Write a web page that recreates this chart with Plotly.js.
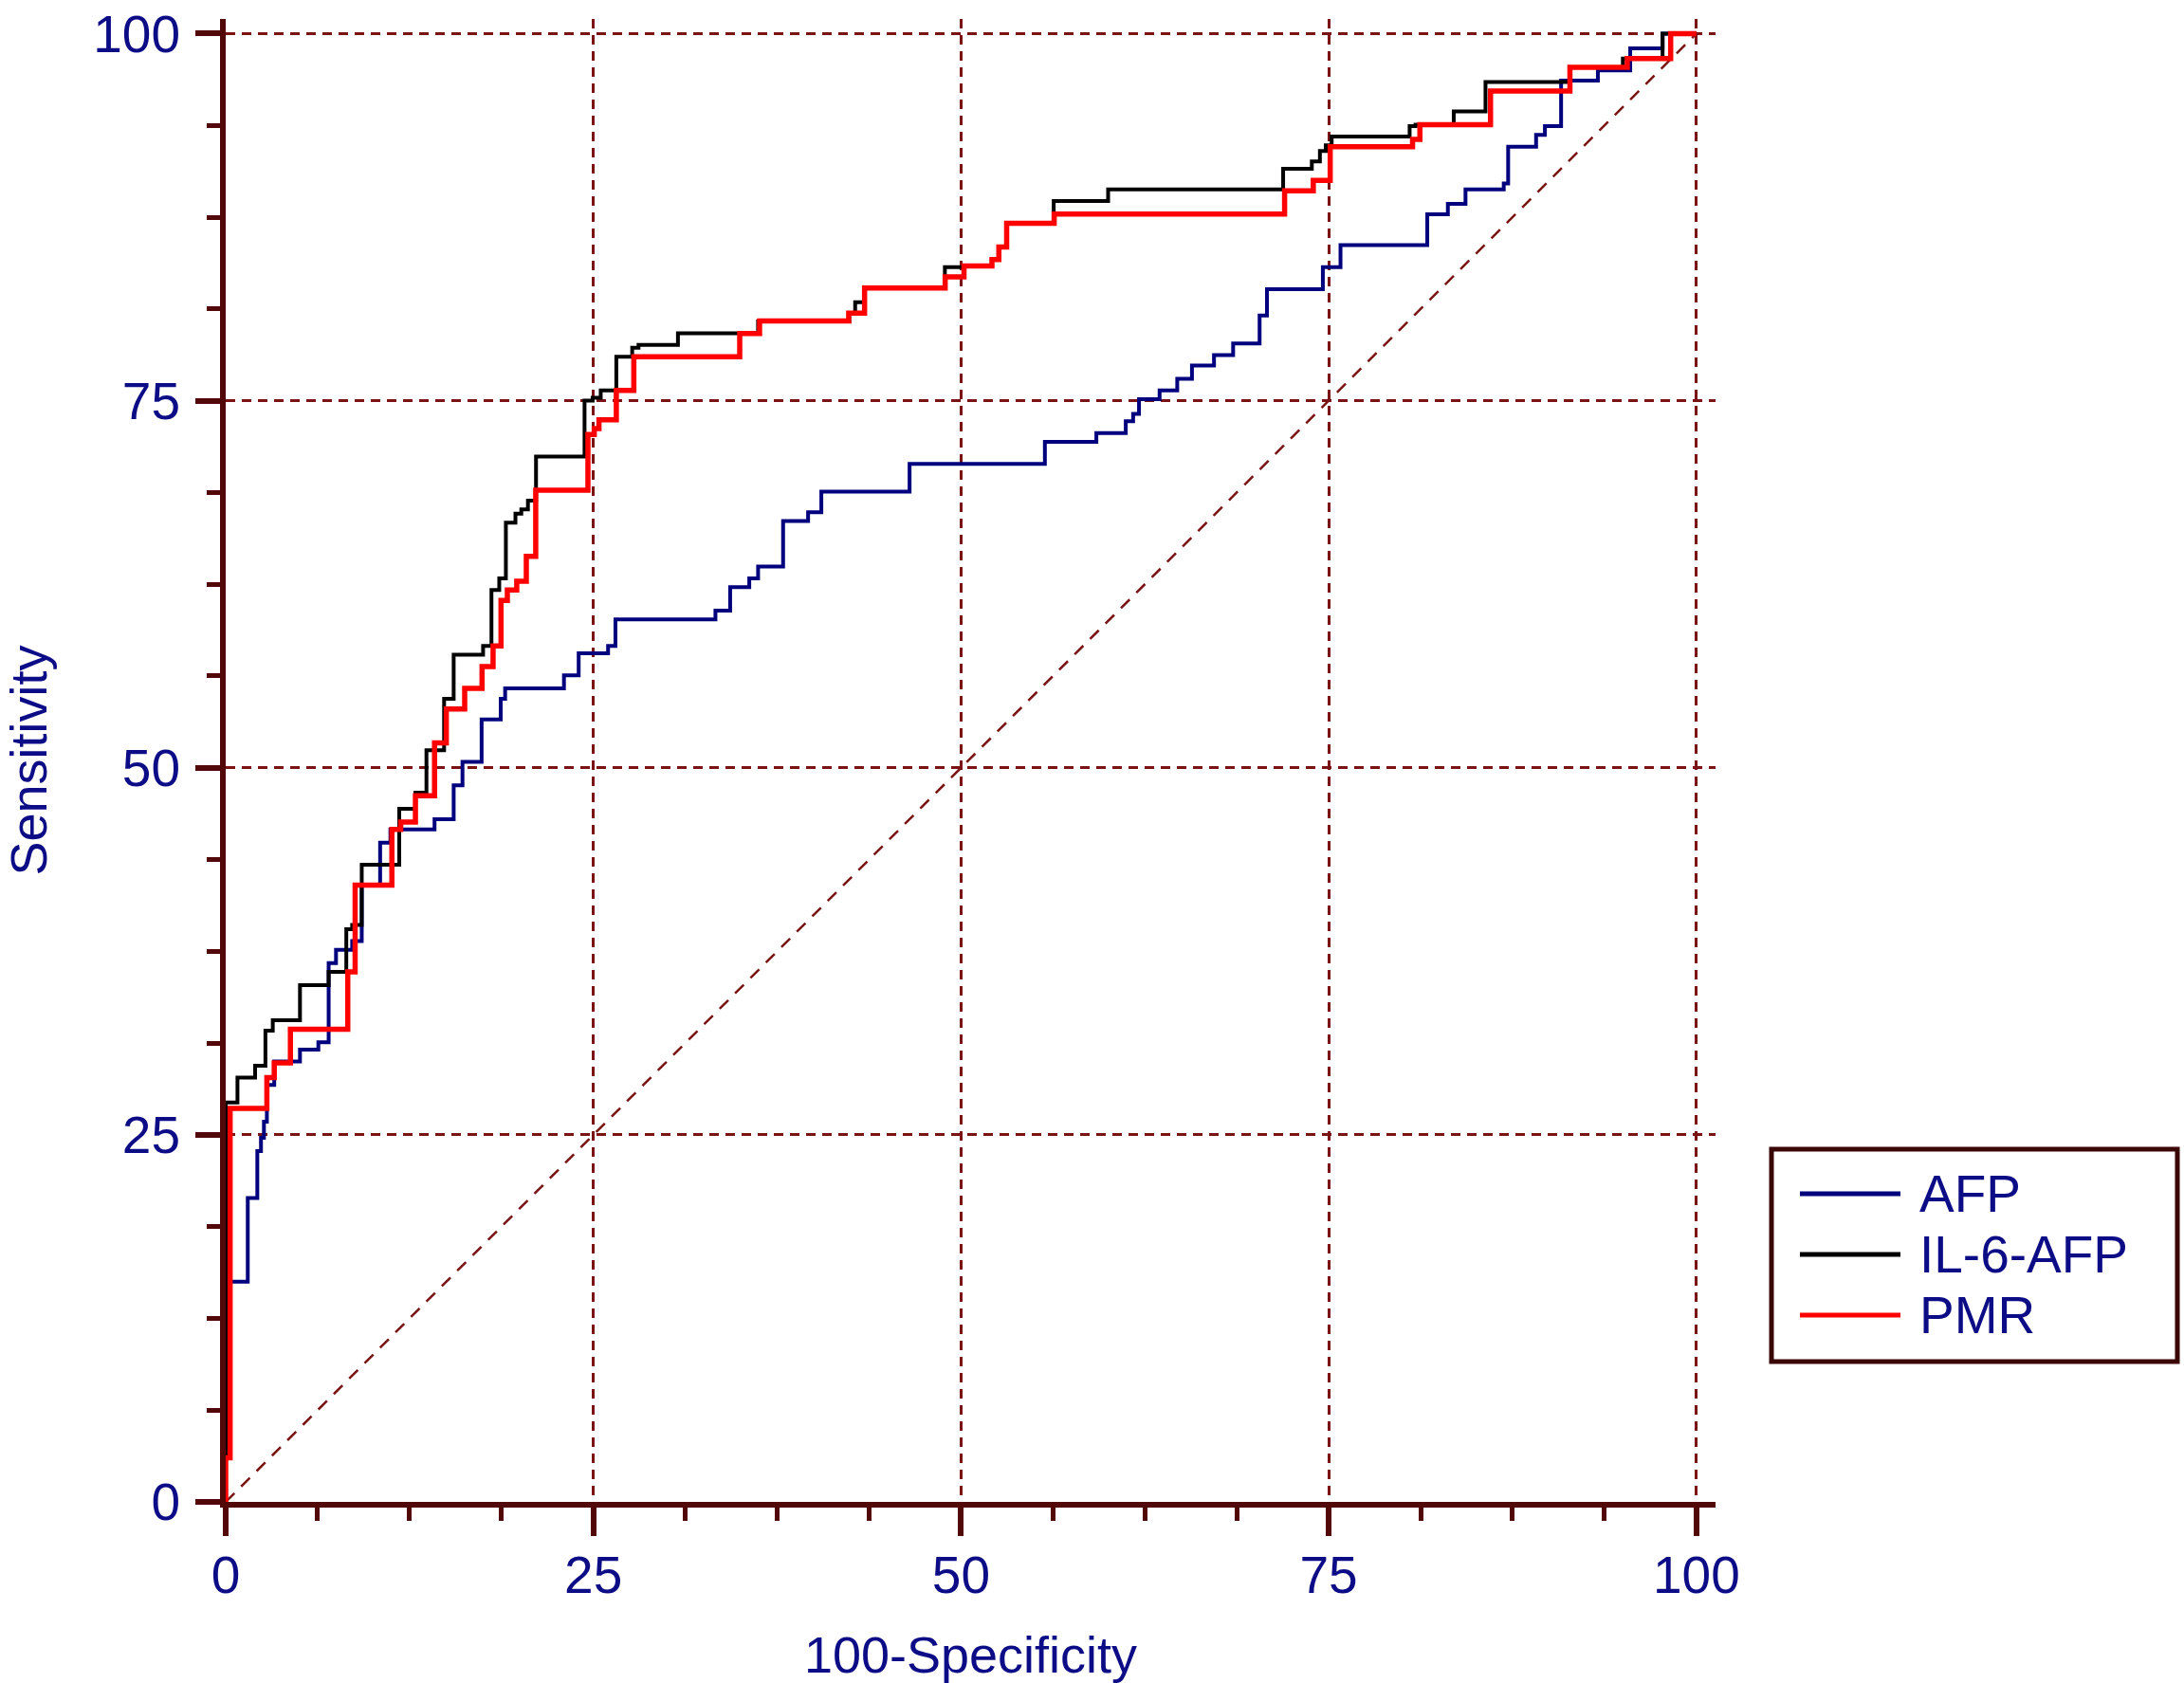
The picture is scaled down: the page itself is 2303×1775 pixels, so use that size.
<!DOCTYPE html>
<html>
<head>
<meta charset="utf-8">
<script src="https://cdn.plot.ly/plotly-3.0.1.min.js"></script>
<style>
  html, body { margin: 0; padding: 0; background: #fff; }
  #chart { width: 2303px; height: 1775px; }
</style>
</head>
<body>
<div id="chart"></div>
<script>
// ROC curves (x = 100-Specificity, y = Sensitivity)
const afpX = [0, 0, 1.5, 2.15, 2.4, 2.6, 2.8, 3.3, 5.05, 6.3, 7.0, 7.5, 8.6, 9.25, 10.5, 11.2, 14.2, 15.5, 16.1, 17.4,
  18.7, 19.0, 23.0, 24.0, 26.0, 26.5, 33.3, 34.3, 35.6, 36.2, 37.9, 39.6, 40.5, 46.5, 55.7, 59.2, 61.2, 61.7, 62.1, 63.5,
  64.7, 65.7, 67.2, 68.5, 70.3, 70.8, 74.6, 75.8, 81.7, 83.1, 84.3, 86.9, 87.2, 89.1, 89.7, 90.8, 93.3, 95.5, 97.7, 100];
const afpY = [0, 15.0, 20.7, 23.9, 24.8, 25.9, 28.4, 30.0, 30.8, 31.3, 36.7, 37.6, 38.2, 42.0, 44.9, 45.8, 46.5, 48.8, 50.4, 53.3,
  54.7, 55.4, 56.3, 57.8, 58.3, 60.1, 60.7, 62.3, 62.9, 63.7, 66.8, 67.4, 68.8, 70.7, 72.2, 72.8, 73.6, 74.1, 75.1, 75.7,
  76.5, 77.4, 78.1, 78.9, 80.8, 82.6, 84.1, 85.6, 87.7, 88.4, 89.4, 89.8, 92.3, 93.1, 93.7, 96.8, 97.5, 99.0, 100, 100];

const il6X = [0, 0, 0.8, 2.0, 2.7, 3.2, 5.05, 7.0, 8.2, 8.6, 9.25, 11.8, 12.9, 13.65, 14.85, 15.5, 17.5, 18.07, 18.6, 19.05,
  19.7, 20.1, 20.55, 21.1, 24.4, 24.95, 25.5, 26.56, 27.64, 28.07, 30.75, 36.2, 42.4, 42.8, 43.4, 48.9, 50.2, 52.1, 52.6, 53.1,
  56.3, 60.0, 71.9, 73.85, 74.4, 74.8, 75.2, 80.5, 80.9, 83.5, 85.66, 91.4, 95.0, 97.7, 100];
const il6Y = [0, 27.2, 28.9, 29.7, 32.1, 32.8, 35.2, 36.1, 39.0, 39.3, 43.4, 47.2, 48.3, 51.2, 54.7, 57.7, 58.3, 62.1, 62.9, 66.7,
  67.3, 67.6, 68.2, 71.2, 75.0, 75.2, 75.7, 78.0, 78.6, 78.8, 79.6, 80.4, 80.97, 81.7, 82.7, 84.1, 84.2, 84.6, 85.5, 87.1,
  88.6, 89.4, 90.8, 91.3, 92.0, 92.4, 93.0, 93.7, 93.8, 94.7, 96.7, 97.7, 98.3, 100, 100];

const pmrX = [0, 0, 0.3, 2.8, 3.3, 4.4, 8.3, 8.8, 11.3, 11.9, 12.9, 14.2, 15.0, 16.25, 17.43, 18.18, 18.72, 19.15, 19.79, 20.44,
  21.08, 24.63, 25.06, 25.38, 26.56, 27.75, 34.95, 36.3, 42.36, 43.44, 48.92, 50.2, 52.1, 52.57, 53.1, 56.33, 72.0, 73.95, 75.1, 80.7,
  81.2, 86.0, 91.4, 95.3, 98.25, 100];
const pmrY = [0, 3.0, 26.8, 28.9, 29.9, 32.2, 36.1, 42.0, 45.8, 46.3, 48.1, 51.7, 54.0, 55.4, 56.9, 58.3, 61.4, 62.1, 62.7, 64.4,
  68.9, 72.7, 73.1, 73.7, 75.7, 78.0, 79.57, 80.43, 80.97, 82.68, 83.43, 84.18, 84.61, 85.47, 87.08, 87.72, 89.3, 90.0, 92.3, 92.8,
  93.8, 96.1, 97.7, 98.3, 100, 100];

const diagX = [0, 100];
const diagY = [0, 100];

const seriesNames = ['AFP', 'IL-6-AFP', 'PMR'];
const tickVals = [0, 25, 50, 75, 100];

const W = 2303, H = 1775;
const M = { l: 238, r: 494, t: 20, b: 191 };
const PW = W - M.l - M.r, PH = H - M.t - M.b;
const AXIS = '#520808';
const GRID = '#7a1414';
const INK = '#0c0c86';
const FONT = 'Liberation Sans, Arial, sans-serif';
const colors = ['#00007f', '#000000', '#ff0000'];
const widths = [4, 4, 5.5];

// pixel position -> paper coordinate (for the hand-made legend)
const px = x => (x - M.l) / PW;
const py = y => (H - M.b - y) / PH;

const curves = [[afpX, afpY], [il6X, il6Y], [pmrX, pmrY]];

const traces = [{
  x: diagX, y: diagY,
  type: 'scatter', mode: 'lines',
  line: { color: GRID, width: 2.5, dash: '13px,10px' },
  hoverinfo: 'skip', showlegend: false
}];
curves.forEach((c, i) => {
  traces.push({
    x: c[0], y: c[1],
    type: 'scatter', mode: 'lines',
    name: seriesNames[i],
    line: { color: colors[i], width: widths[i], shape: 'hv' },
    showlegend: false
  });
});

const axisCommon = {
  tickmode: 'array',
  tickvals: tickVals,
  ticks: 'outside',
  tickcolor: AXIS,
  tickwidth: 6,
  showline: true,
  linecolor: AXIS,
  linewidth: 6,
  showgrid: true,
  gridcolor: GRID,
  gridwidth: 3,
  griddash: '10px,7px',
  zeroline: false,
  ticklabeloverflow: 'allow',
  tickfont: { family: FONT, size: 55, color: INK },
  minor: { dtick: 6.25, tick0: 0, ticks: 'outside', ticklen: 14, tickwidth: 5, tickcolor: AXIS, showgrid: false }
};

// legend drawn by hand so the line samples keep their long shape
const legendTop = 1212, legendBottom = 1436, legendLeft = 1868, legendRight = 2296;
const rowY = [1259, 1323, 1387];
const shapes = [{
  type: 'rect', xref: 'paper', yref: 'paper',
  x0: px(legendLeft), x1: px(legendRight), y0: py(legendBottom), y1: py(legendTop),
  line: { color: '#3a0606', width: 5 }, fillcolor: 'rgba(255,255,255,0)'
}];
const annotations = [];
seriesNames.forEach((name, i) => {
  shapes.push({
    type: 'line', xref: 'paper', yref: 'paper',
    x0: px(1898), x1: px(2004), y0: py(rowY[i]), y1: py(rowY[i]),
    line: { color: colors[i], width: 5 }
  });
  annotations.push({
    xref: 'paper', yref: 'paper',
    x: px(2022), y: py(rowY[i]),
    xanchor: 'left', yanchor: 'middle',
    text: name, showarrow: false,
    font: { family: FONT, size: 55, color: INK }
  });
});

const layout = {
  width: W, height: H,
  margin: M,
  paper_bgcolor: '#fff',
  plot_bgcolor: '#fff',
  showlegend: false,
  xaxis: Object.assign({}, axisCommon, {
    range: [0, 101.3],
    ticklen: 30,
    ticklabelstandoff: -6,
    title: { text: '100-Specificity', font: { family: FONT, size: 54, color: INK }, standoff: 44 }
  }),
  yaxis: Object.assign({}, axisCommon, {
    range: [0, 101],
    ticklen: 26,
    ticklabelstandoff: 5,
    title: { text: 'Sensitivity', font: { family: FONT, size: 54, color: INK }, standoff: 38 }
  }),
  shapes: shapes,
  annotations: annotations
};

Plotly.newPlot('chart', traces, layout, { displayModeBar: false, staticPlot: true });
</script>
</body>
</html>
